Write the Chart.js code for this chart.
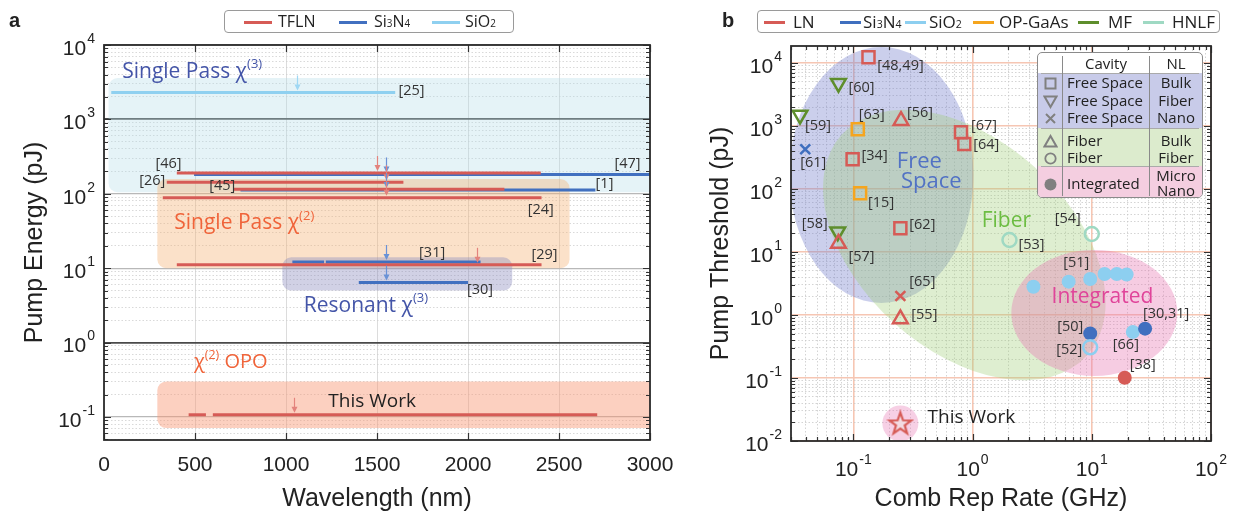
<!DOCTYPE html>
<html>
<head>
<meta charset="utf-8">
<script src="https://cdn.jsdelivr.net/npm/chart.js@4.4.1/dist/chart.umd.min.js"></script>
<style>
  body { margin: 0; background: #fff; width: 1240px; height: 514px; position: relative; overflow: hidden; font-family: "Open Sans", sans-serif; color: #222; }
  canvas { position: absolute; top: 0; }
  #chartA { left: 0; }
  #chartB { left: 700px; }
  .panel { position: absolute; top: 9px; font: bold 20px "Liberation Sans", Arial, sans-serif; }
  .legend { position: absolute; top: 10px; height: 23px; border: 1px solid #9a9a9a; border-radius: 4px; background: #fff; box-sizing: border-box; }
  .legend .ln { position: absolute; top: 10px; height: 3px; }
  .legend .tx { position: absolute; top: 0; line-height: 21px; white-space: nowrap; }
  .legend sub { font-size: 0.62em; vertical-align: baseline; }
  #cav { position: absolute; left: 1037px; top: 52px; width: 166px; height: 146px; border: 1.5px solid #8a8a8a; border-radius: 5px; overflow: hidden; background: #fff; box-sizing: border-box; font-size: 15px; }
  #cav div { position: absolute; }
  #cav .t { line-height: 17px; white-space: nowrap; }
</style>
</head>
<body>
<canvas id="chartA" width="700" height="514"></canvas>
<canvas id="chartB" width="540" height="514"></canvas>
<div class="panel" style="left:9px">a</div>
<div class="panel" style="left:722px">b</div>
<div class="legend" id="legA" style="left:224px;width:290px;font-size:16px"></div>
<div class="legend" id="legB" style="left:757px;width:463px;font-size:17px"></div>
<div id="cav"></div>
<script>
// ---------- panel a : pump energy vs wavelength ----------
const matNames = ['TFLN', 'Si₃N₄', 'SiO₂'];
const matColors = ['#d65b56', '#4170c0', '#8fd0f0'];
const arrowColors = ['#e3837d', '#6a92d6', '#9fd8f4'];

// one entry per spectral span: material index, start / end wavelength (nm), pump energy (pJ)
const segMat = [2, 0, 1, 0, 0, 1, 0, 0, 1, 1, 1, 0, 0];
const segStart = [40, 400, 495, 345, 710, 750, 323, 400, 1035, 1219, 1400, 465, 598];
const segEnd = [1600, 2400, 3000, 1645, 2200, 2700, 2404, 2404, 1209, 2069, 2000, 560, 2710];
const segEnergy = [2300, 190, 182, 143, 115, 112, 88.5, 11.1, 12.1, 12.1, 6.4, 0.107, 0.107];
const pumpWl = [1060, 1500, 1550, 1550, null, 1550, 1550, 2050, 1550, null, 1550, null, 1045];

const refText = ['[25]', '[46]', '[47]', '[26]', '[45]', '[1]', '[24]', '[29]', '[31]', '[30]'];
const refWl = [1690, 354, 2876, 265, 650, 2750, 2400, 2420, 1803, 2066];
const refEnergy = [2450, 250, 250, 150, 129, 135, 61, 15, 16.2, 5.1];

// shaded regimes: wavelength range and energy range
const boxWl0 = [25, 293, 980, 293];
const boxWl1 = [3000, 2492, 2177, 3000];
const boxE0 = [105, 10, 5, 0.071];
const boxE1 = [3600, 158, 14, 0.30];
const boxColors = ['rgba(180,222,232,0.35)', 'rgba(245,180,120,0.40)', 'rgba(140,140,190,0.40)', 'rgba(248,150,115,0.45)'];

const wlTicks = [0, 500, 1000, 1500, 2000, 2500, 3000];

// ---------- panel b : pump threshold vs comb rep rate ----------
const legNames = ['LN', 'Si₃N₄', 'SiO₂', 'OP-GaAs', 'MF', 'HNLF'];
const legColors = ['#d65b56', '#3f6fbf', '#8dcff0', '#f5a51e', '#5e8e2c', '#9fd9c3'];

const repRate = [0.134, 0.075, 0.0357, 0.109, 0.251, 0.80, 0.853, 0.0395, 0.0986, 0.114, 0.074, 0.075, 0.248, 2.04, 10,
  3.24, 6.4, 9.7, 12.8, 16.2, 19.6, 9.7, 9.7, 22.1, 28, 18.9, 0.248, 0.248, 0.248];
const threshold = [12300, 4770, 1500, 887, 1213, 795, 518, 427, 296, 85.5, 21, 13.7, 23.8, 15.5, 19.3,
  2.81, 3.38, 3.73, 4.47, 4.47, 4.4, 0.51, 0.307, 0.537, 0.607, 0.101, 2.0, 0.865, 0.019];
const ptMaterial = [0, 4, 4, 3, 0, 0, 0, 1, 0, 3, 4, 0, 0, 5, 5, 2, 2, 2, 2, 2, 2, 1, 2, 2, 1, 0, 0, 0, 0];
const ptKind = ['sq', 'down', 'down', 'sq', 'up', 'sq', 'sq', 'x', 'sq', 'sq', 'down', 'up', 'sq', 'open', 'open',
  'dot', 'dot', 'dot', 'dot', 'dot', 'dot', 'dot', 'open', 'dot', 'dot', 'dot', 'x', 'up', 'star'];
const ptRef = ['[48,49]', '[60]', '[59]', '[63]', '[56]', '[67]', '[64]', '[61]', '[34]', '[15]', '[58]', '[57]', '[62]', '[53]', '[54]',
  '', '', '[51]', '', '', '', '[50]', '[52]', '[66]', '[30,31]', '[38]', '[65]', '[55]', 'This Work'];
// label offsets from the marker, px
const ptLabelDx = [32, 23, 18, 14, 19, 23, 22, 8, 22, 21, -23, 23, 22, 22, -24, 0, 0, -14, 0, 0, 0, -20, -21, -7, 21, 18, 22, 24, 71];
const ptLabelDy = [9, 5, 11, -14, -8, -6, 1, 14, -3, 10, -8, 13, -3, 5, -15, 0, 0, -16, 0, 0, 0, -7, 3, 13, -15, -13, -14, -4, -6];

const cavRows = [
  ['sq', 'Free Space', 'Bulk'], ['down', 'Free Space', 'Fiber'], ['x', 'Free Space', 'Nano'],
  ['up', 'Fiber', 'Bulk'], ['open', 'Fiber', 'Fiber'], ['dot', 'Integrated', 'Micro\nNano']];

// ---------- helpers ----------
const isPow10 = v => Math.abs(Math.log10(v) - Math.round(Math.log10(v))) < 1e-6;

function logTicks(min, max) {
  const out = [];
  for (let e = Math.floor(Math.log10(min)); e <= Math.ceil(Math.log10(max)); e++) {
    for (let m = 1; m < 10; m++) {
      const v = +(m * Math.pow(10, e)).toPrecision(6);
      if (v >= min * 0.9999 && v <= max * 1.0001) out.push(v);
    }
  }
  return out;
}

function richText(ctx, x, y, parts, size, color, align) {
  const fam = '"Open Sans", sans-serif';
  ctx.save();
  ctx.fillStyle = color;
  ctx.textBaseline = 'middle';
  ctx.textAlign = 'left';
  let w = 0;
  parts.forEach(p => { ctx.font = (p[1] ? size * 0.62 : size) + 'px ' + fam; w += ctx.measureText(p[0]).width; });
  let cx = align === 'center' ? x - w / 2 : align === 'right' ? x - w : x;
  parts.forEach(p => {
    ctx.font = (p[1] ? size * 0.62 : size) + 'px ' + fam;
    ctx.fillText(p[0], cx, p[1] ? y - size * 0.36 : y);
    cx += ctx.measureText(p[0]).width;
  });
  ctx.restore();
}

// "10" with a raised exponent, as on a log axis
function powText(ctx, x, y, v, align) {
  const e = String(Math.round(Math.log10(v)));
  const base = '21px "Liberation Sans", Arial, sans-serif', sup = '14px "Liberation Sans", Arial, sans-serif';
  ctx.save();
  ctx.fillStyle = '#222';
  ctx.textBaseline = 'middle';
  ctx.textAlign = 'left';
  ctx.font = base; const w1 = ctx.measureText('10').width;
  ctx.font = sup; const w2 = ctx.measureText(e).width;
  const x0 = align === 'right' ? x - w1 - w2 - 1 : x - (w1 + w2 + 1) / 2;
  ctx.font = base; ctx.fillText('10', x0, y + 4);
  ctx.font = sup; ctx.fillText(e, x0 + w1 + 1, y - 6);
  ctx.restore();
}

function frameAndTicks(chart, xTicks, yTicks, xLog) {
  const { ctx, chartArea: a, scales: { x, y } } = chart;
  ctx.save();
  ctx.strokeStyle = '#333';
  ctx.lineWidth = 1.2;
  yTicks.forEach(v => {
    const p = Math.round(y.getPixelForValue(v)) + 0.5;
    const len = isPow10(v) ? 7 : 4;
    ctx.beginPath();
    ctx.moveTo(a.left, p); ctx.lineTo(a.left + len, p);
    ctx.moveTo(a.right, p); ctx.lineTo(a.right - len, p);
    ctx.stroke();
  });
  xTicks.forEach(v => {
    const p = Math.round(x.getPixelForValue(v)) + 0.5;
    const len = !xLog || isPow10(v) ? 7 : 4;
    ctx.beginPath();
    ctx.moveTo(p, a.bottom); ctx.lineTo(p, a.bottom - len);
    ctx.moveTo(p, a.top); ctx.lineTo(p, a.top + len);
    ctx.stroke();
  });
  ctx.lineWidth = 1.8;
  ctx.strokeStyle = '#2b2b2b';
  ctx.strokeRect(a.left, a.top, a.right - a.left, a.bottom - a.top);
  ctx.restore();
  // decade labels
  yTicks.filter(isPow10).forEach(v => powText(ctx, a.left - 9, y.getPixelForValue(v), v, 'right'));
  if (xLog) xTicks.filter(isPow10).forEach(v => powText(ctx, x.getPixelForValue(v), a.bottom + 25, v, 'center'));
}

const axisTitleFont = { family: '"Liberation Sans", Arial, sans-serif', size: 25 };
const tickFont = { family: '"Liberation Sans", Arial, sans-serif', size: 21 };

// ---------- chart a ----------
const yTicksA = logTicks(0.049, 10000);

const paneA = {
  id: 'paneA',
  beforeDatasetsDraw(chart) {
    const { ctx, chartArea: a, scales: { x, y } } = chart;
    ctx.save();
    ctx.beginPath(); ctx.rect(a.left, a.top, a.right - a.left, a.bottom - a.top); ctx.clip();
    boxWl0.forEach((w0, i) => {
      const x0 = x.getPixelForValue(w0), x1 = x.getPixelForValue(boxWl1[i]) + 12;
      const y0 = y.getPixelForValue(boxE1[i]), y1 = y.getPixelForValue(boxE0[i]);
      ctx.fillStyle = boxColors[i];
      ctx.beginPath(); ctx.roundRect(x0, y0, x1 - x0, y1 - y0, 9); ctx.fill();
    });
    ctx.restore();
  },
  afterDatasetsDraw(chart) {
    const { ctx, scales: { x, y } } = chart;
    ctx.save();
    pumpWl.forEach((w, i) => {
      if (w == null) return;
      const px = Math.round(x.getPixelForValue(w)) + 0.5, py = y.getPixelForValue(segEnergy[i]);
      ctx.strokeStyle = ctx.fillStyle = arrowColors[segMat[i]];
      ctx.lineWidth = 1.2;
      ctx.beginPath(); ctx.moveTo(px, py - 17); ctx.lineTo(px, py - 4); ctx.stroke();
      ctx.beginPath(); ctx.moveTo(px - 3, py - 8); ctx.lineTo(px + 3, py - 8); ctx.lineTo(px, py - 2); ctx.closePath(); ctx.fill();
    });
    ctx.restore();
    refText.forEach((t, i) => richText(ctx, x.getPixelForValue(refWl[i]), y.getPixelForValue(refEnergy[i]), [[t, false]], 14.5, '#333', 'center'));
    richText(ctx, x.getPixelForValue(100), y.getPixelForValue(4300), [['Single Pass χ', false], ['(3)', true]], 21, '#4455a8', 'left');
    richText(ctx, x.getPixelForValue(386), y.getPixelForValue(40), [['Single Pass χ', false], ['(2)', true]], 21, '#f0643a', 'left');
    richText(ctx, x.getPixelForValue(1439), y.getPixelForValue(3.1), [['Resonant χ', false], ['(3)', true]], 21, '#4455a8', 'center');
    richText(ctx, x.getPixelForValue(494), y.getPixelForValue(0.54), [['χ', false], ['(2)', true], [' OPO', false]], 20, '#f0643a', 'left');
    richText(ctx, x.getPixelForValue(1473), y.getPixelForValue(0.16), [['This Work', false]], 19, '#222', 'center');
  },
  afterDraw(chart) { frameAndTicks(chart, wlTicks, yTicksA, false); }
};

new Chart(document.getElementById('chartA'), {
  type: 'scatter',
  data: {
    datasets: segStart.map((s, i) => ({
      label: matNames[segMat[i]],
      data: [{ x: s, y: segEnergy[i] }, { x: segEnd[i], y: segEnergy[i] }],
      showLine: true,
      borderColor: matColors[segMat[i]],
      borderWidth: 3,
      pointRadius: 0
    }))
  },
  options: {
    responsive: false, animation: false, events: [],
    layout: { padding: { left: 0, right: 50, top: 45, bottom: 0 } },
    plugins: { legend: { display: false }, tooltip: { enabled: false } },
    scales: {
      x: {
        type: 'linear', min: 0, max: 3000,
        afterBuildTicks: s => { s.ticks = wlTicks.map(v => ({ value: v })); },
        afterFit: s => { s.height = 74; },
        ticks: { callback: v => String(v), font: tickFont, color: '#222', padding: 13, maxRotation: 0, autoSkip: false },
        grid: { drawTicks: false, color: '#dcdcdc', lineWidth: 1 },
        border: { display: false },
        title: { display: true, text: 'Wavelength (nm)', font: axisTitleFont, color: '#222', padding: { top: 0, bottom: 0 } }
      },
      y: {
        type: 'logarithmic', min: 0.049, max: 10000,
        afterBuildTicks: s => { s.ticks = yTicksA.map(v => ({ value: v })); },
        afterFit: s => { s.width = 104; },
        ticks: { display: false, autoSkip: false },
        grid: {
          drawTicks: false,
          color: c => {
            const v = c.tick.value;
            if (!isPow10(v)) return '#cfcfcf';
            const e = Math.round(Math.log10(v));
            return (e === 3 || e === 0) ? '#4a4a4a' : '#b8b8b8';
          },
          lineWidth: c => {
            const v = c.tick.value;
            if (!isPow10(v)) return 0.8;
            const e = Math.round(Math.log10(v));
            return (e === 3 || e === 0) ? 1.8 : 1.2;
          }
        },
        border: { display: false, dash: c => (c.tick && !isPow10(c.tick.value)) ? [1.5, 2] : [] },
        title: { display: true, text: 'Pump Energy (pJ)', font: axisTitleFont, color: '#222', padding: { top: 20, bottom: 0 } }
      }
    }
  },
  plugins: [paneA]
});

// ---------- chart b ----------
const xTicksB = logTicks(0.03, 100);
const yTicksB = logTicks(0.01, 18600);

function starCanvas() {
  const c = document.createElement('canvas');
  c.width = 28; c.height = 28;
  const g = c.getContext('2d');
  g.beginPath();
  for (let k = 0; k < 10; k++) {
    const r = k % 2 ? 4.6 : 11.5, ang = -Math.PI / 2 + k * Math.PI / 5;
    g.lineTo(14 + r * Math.cos(ang), 14.5 + r * Math.sin(ang));
  }
  g.closePath();
  g.fillStyle = '#f3dbe2'; g.fill();
  g.strokeStyle = '#d65b56'; g.lineWidth = 2.2; g.stroke();
  return c;
}
const starImg = starCanvas();

const kindStyle = {
  sq: { style: 'rect', r: 8.5, rot: 0, filled: false },
  down: { style: 'triangle', r: 8.5, rot: 180, filled: false },
  up: { style: 'triangle', r: 8.5, rot: 0, filled: false },
  x: { style: 'crossRot', r: 7, rot: 0, filled: false },
  open: { style: 'circle', r: 7, rot: 0, filled: false },
  dot: { style: 'circle', r: 7, rot: 0, filled: true },
  star: { style: starImg, r: 12, rot: 0, filled: false }
};

// shaded groups (centre in data units, radii px, rotation deg)
const groupRate = [0.172, 0.853, 10.5];
const groupThr = [167, 12.9, 1.08];
const groupRx = [92, 165, 83];
const groupRy = [128, 105, 63];
const groupRot = [0, 42, 0];
const groupColors = ['rgba(118,128,205,0.38)', 'rgba(160,205,120,0.35)', 'rgba(232,120,180,0.38)'];

const paneB = {
  id: 'paneB',
  beforeDatasetsDraw(chart) {
    const { ctx, chartArea: a, scales: { x, y } } = chart;
    ctx.save();
    ctx.beginPath(); ctx.rect(a.left, a.top, a.right - a.left, a.bottom - a.top); ctx.clip();
    groupRate.forEach((r, i) => {
      ctx.fillStyle = groupColors[i];
      ctx.beginPath();
      ctx.ellipse(x.getPixelForValue(r), y.getPixelForValue(groupThr[i]), groupRx[i], groupRy[i], groupRot[i] * Math.PI / 180, 0, 2 * Math.PI);
      ctx.fill();
    });
    const last = repRate.length - 1;
    ctx.fillStyle = 'rgba(232,120,180,0.35)';
    ctx.beginPath(); ctx.arc(x.getPixelForValue(repRate[last]), y.getPixelForValue(threshold[last]), 18, 0, 2 * Math.PI); ctx.fill();
    ctx.restore();
  },
  afterDatasetsDraw(chart) {
    const { ctx, scales: { x, y } } = chart;
    ptRef.forEach((t, i) => {
      if (!t) return;
      const px = x.getPixelForValue(repRate[i]) + ptLabelDx[i], py = y.getPixelForValue(threshold[i]) + ptLabelDy[i];
      if (t === 'This Work') richText(ctx, px, py, [[t, false]], 19, '#222', 'center');
      else richText(ctx, px, py, [[t, false]], 14.5, '#333', 'center');
    });
    richText(ctx, x.getPixelForValue(0.358), y.getPixelForValue(268), [['Free', false]], 22, '#5272c4', 'center');
    richText(ctx, x.getPixelForValue(0.451), y.getPixelForValue(129), [['Space', false]], 22, '#5272c4', 'center');
    richText(ctx, x.getPixelForValue(1.92), y.getPixelForValue(31), [['Fiber', false]], 21, '#6cbd42', 'center');
    richText(ctx, x.getPixelForValue(12.3), y.getPixelForValue(1.93), [['Integrated', false]], 21, '#e0449a', 'center');
  },
  afterDraw(chart) { frameAndTicks(chart, xTicksB, yTicksB, true); }
};

const logGrid = {
  drawTicks: false,
  color: c => isPow10(c.tick.value) ? '#f6c6b3' : '#c9c9c9',
  lineWidth: c => isPow10(c.tick.value) ? 1.6 : 0.8
};
const logDash = c => (c.tick && !isPow10(c.tick.value)) ? [1.5, 2] : [];

new Chart(document.getElementById('chartB'), {
  type: 'scatter',
  data: {
    datasets: [{
      data: repRate.map((r, i) => ({ x: r, y: threshold[i] })),
      pointStyle: ptKind.map(k => kindStyle[k].style),
      pointRadius: ptKind.map(k => kindStyle[k].r),
      pointRotation: ptKind.map(k => kindStyle[k].rot),
      pointBorderWidth: ptKind.map(k => kindStyle[k].filled ? 0 : 2.5),
      pointBorderColor: ptMaterial.map(m => legColors[m]),
      pointBackgroundColor: ptKind.map((k, i) => kindStyle[k].filled ? legColors[ptMaterial[i]] : 'rgba(0,0,0,0)')
    }]
  },
  options: {
    responsive: false, animation: false, events: [],
    layout: { padding: { left: 0, right: 29, top: 46, bottom: 0 } },
    plugins: { legend: { display: false }, tooltip: { enabled: false } },
    scales: {
      x: {
        type: 'logarithmic', min: 0.03, max: 100,
        afterBuildTicks: s => { s.ticks = xTicksB.map(v => ({ value: v })); },
        afterFit: s => { s.height = 73; },
        ticks: { display: false, autoSkip: false },
        grid: logGrid,
        border: { display: false, dash: logDash },
        title: { display: true, text: 'Comb Rep Rate (GHz)', font: axisTitleFont, color: '#222', padding: { top: 0, bottom: 0 } }
      },
      y: {
        type: 'logarithmic', min: 0.01, max: 18600,
        afterBuildTicks: s => { s.ticks = yTicksB.map(v => ({ value: v })); },
        afterFit: s => { s.width = 91; },
        ticks: { display: false, autoSkip: false },
        grid: logGrid,
        border: { display: false, dash: logDash },
        title: { display: true, text: 'Pump Threshold (pJ)', font: axisTitleFont, color: '#222', padding: { top: 6, bottom: 0 } }
      }
    }
  },
  plugins: [paneB]
});

// ---------- legends (HTML) ----------
const subHtml = s => s.replace(/[₀-₉]/g, c => '<sub>' + (c.charCodeAt(0) - 0x2080) + '</sub>');
function buildLegend(el, names, colors, lineX, textX, lineW) {
  names.forEach((n, i) => {
    const l = document.createElement('div');
    l.className = 'ln';
    l.style.cssText = `left:${lineX[i]}px;width:${lineW}px;background:${colors[i]}`;
    const t = document.createElement('div');
    t.className = 'tx';
    t.style.left = textX[i] + 'px';
    t.innerHTML = subHtml(n);
    el.appendChild(l); el.appendChild(t);
  });
}
buildLegend(document.getElementById('legA'), matNames, matColors, [19, 114, 207], [53, 149, 240], 28);
buildLegend(document.getElementById('legB'), legNames, legColors, [6, 82, 147, 215, 320, 385], [35, 105, 171, 241, 350, 414], 21);

function markerSvg(kind) {
  const g = '#808080';
  const shapes = {
    sq: `<rect x="2.5" y="2.5" width="10" height="10" fill="none" stroke="${g}" stroke-width="2"/>`,
    down: `<polygon points="1.5,2.5 13.5,2.5 7.5,13" fill="none" stroke="${g}" stroke-width="2"/>`,
    up: `<polygon points="1.5,12.5 13.5,12.5 7.5,2" fill="none" stroke="${g}" stroke-width="2"/>`,
    x: `<path d="M3,3 L12,12 M12,3 L3,12" stroke="${g}" stroke-width="2"/>`,
    open: `<circle cx="7.5" cy="7.5" r="5.2" fill="none" stroke="${g}" stroke-width="1.8"/>`,
    dot: `<circle cx="7.5" cy="7.5" r="6" fill="${g}"/>`
  };
  return `<svg width="15" height="15" viewBox="0 0 15 15">${shapes[kind]}</svg>`;
}

(function buildCavity() {
  const cav = document.getElementById('cav');
  const rowY = [30, 48, 65, 88, 105, 131];
  const secs = [[20, 56, '#c8cbe9'], [75, 38, '#dcebcd'], [113, 34, '#f4cee0']];
  let html = '';
  secs.forEach(s => { html += `<div style="left:0;top:${s[0]}px;width:166px;height:${s[1]}px;background:${s[2]}"></div>`; });
  html += `<div style="left:3px;top:19.5px;width:158px;height:1px;background:#aaa"></div>`;
  html += `<div style="left:3px;top:74.5px;width:158px;height:1px;background:#aaa"></div>`;
  html += `<div style="left:3px;top:112.5px;width:158px;height:1px;background:#aaa"></div>`;
  html += `<div style="left:24px;top:3px;width:1px;height:140px;background:#8a8a8a"></div>`;
  html += `<div style="left:111px;top:3px;width:1px;height:140px;background:#8a8a8a"></div>`;
  html += `<div class="t" style="left:25px;width:86px;top:2px;text-align:center">Cavity</div>`;
  html += `<div class="t" style="left:112px;width:52px;top:2px;text-align:center">NL</div>`;
  cavRows.forEach((r, i) => {
    const y = rowY[i];
    html += `<div style="left:5px;top:${y - 8}px;height:15px">${markerSvg(r[0])}</div>`;
    html += `<div class="t" style="left:29px;top:${y - 9}px">${r[1]}</div>`;
    const nl = r[2].split('\n');
    nl.forEach((t, k) => {
      const ty = nl.length === 1 ? y - 9 : y - 17 + k * 15;
      html += `<div class="t" style="left:112px;width:52px;top:${ty}px;text-align:center">${t}</div>`;
    });
  });
  cav.innerHTML = html;
})();
</script>
</body>
</html>
